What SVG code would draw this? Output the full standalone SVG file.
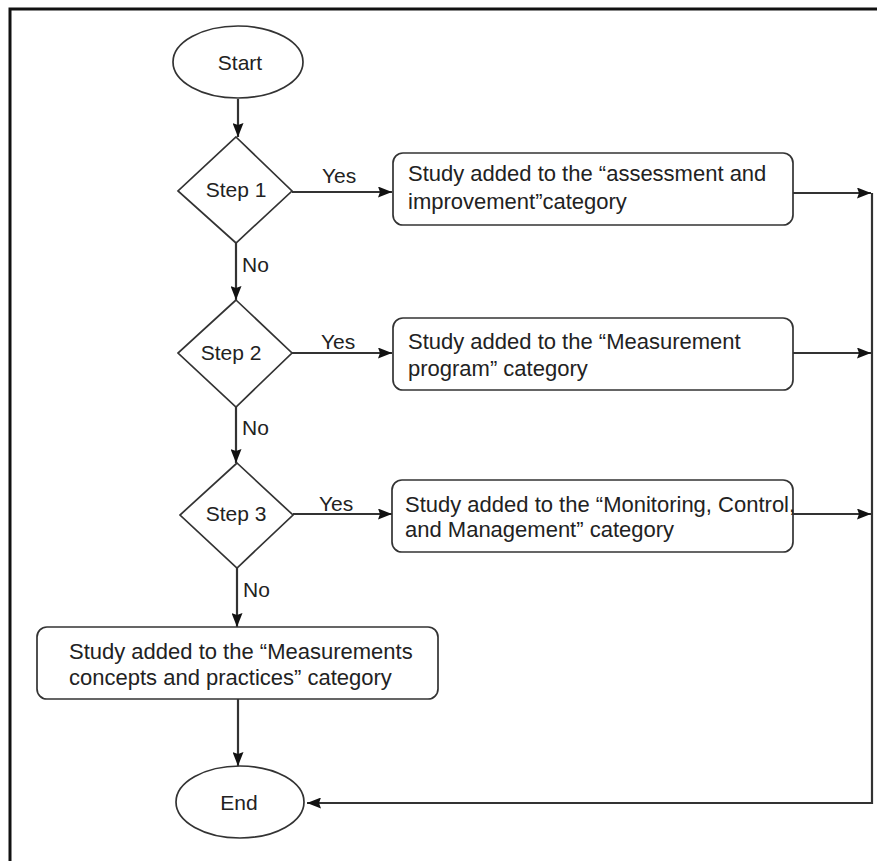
<svg xmlns="http://www.w3.org/2000/svg" width="877" height="861" viewBox="0 0 877 861">
  <defs>
    <marker id="arrow" viewBox="0 0 14 11" refX="14" refY="5.5" markerWidth="14" markerHeight="11" markerUnits="userSpaceOnUse" orient="auto">
      <path d="M0,0 L14,5.5 L0,11 L2,5.5 Z" fill="#111"/>
    </marker>
    <style>
      .frame { fill: none; stroke: #111; stroke-width: 3; }
      .shape { fill: #fff; stroke: #333; stroke-width: 1.7; }
      .link { fill: none; stroke: #333; stroke-width: 2.2; }
      .arr { marker-end: url(#arrow); }
      .lbl { font-family: "Liberation Sans", Arial, sans-serif; font-size: 21px; fill: #222; }
      .mid { text-anchor: middle; dominant-baseline: central; }
      .box { font-family: "Liberation Sans", Arial, sans-serif; font-size: 22px; fill: #222; }
    </style>
  </defs>

  <rect width="877" height="861" fill="#fff"/>
  <!-- page frame: only the top and left edges fall inside the canvas -->
  <path class="frame" d="M10,861 L10,9 L877,9"/>

  <!-- connectors -->
  <g id="connectors">
    <line class="link arr" x1="238" y1="99" x2="238" y2="137"/>
    <line class="link arr" x1="236" y1="243" x2="236" y2="300"/>
    <line class="link arr" x1="236" y1="407" x2="236" y2="463"/>
    <line class="link arr" x1="237" y1="568" x2="237" y2="627"/>
    <line class="link arr" x1="238" y1="699" x2="238" y2="766"/>

    <line class="link arr" x1="292" y1="192" x2="392" y2="192"/>
    <line class="link arr" x1="292" y1="353" x2="392" y2="353"/>
    <line class="link arr" x1="293" y1="514" x2="392" y2="514"/>

    <line class="link arr" x1="793" y1="193" x2="871" y2="193"/>
    <line class="link arr" x1="793" y1="353" x2="871" y2="353"/>
    <line class="link arr" x1="793" y1="514" x2="871" y2="514"/>

    <path class="link arr" d="M872,193 L872,803 L307,803"/>

    <text class="lbl" x="322" y="183">Yes</text>
    <text class="lbl" x="321" y="349">Yes</text>
    <text class="lbl" x="319" y="511">Yes</text>
    <text class="lbl" x="242" y="272">No</text>
    <text class="lbl" x="242" y="435">No</text>
    <text class="lbl" x="243" y="597">No</text>
  </g>

  <g id="start">
    <ellipse class="shape" cx="238" cy="62" rx="65" ry="36"/>
    <text class="lbl mid" x="240" y="62">Start</text>
  </g>

  <g id="step1">
    <polygon class="shape" points="236,137 292,191 236,243 178,191"/>
    <text class="lbl mid" x="236" y="189">Step 1</text>
  </g>

  <g id="step2">
    <polygon class="shape" points="236,300 292,353 236,407 178,353"/>
    <text class="lbl mid" x="231" y="352">Step 2</text>
  </g>

  <g id="step3">
    <polygon class="shape" points="237,463 293,515 237,568 180,515"/>
    <text class="lbl mid" x="236" y="513">Step 3</text>
  </g>

  <g id="assessment">
    <rect class="shape" x="393" y="153" width="400" height="72" rx="10"/>
    <text class="box" x="408" y="181">Study added to the “assessment and</text>
    <text class="box" x="408" y="209">improvement”category</text>
  </g>

  <g id="program">
    <rect class="shape" x="393" y="318" width="400" height="72" rx="10"/>
    <text class="box" x="408" y="349">Study added to the “Measurement</text>
    <text class="box" x="408" y="376">program” category</text>
  </g>

  <g id="monitoring">
    <rect class="shape" x="392" y="480" width="401" height="72" rx="10"/>
    <text class="box" x="405" y="512">Study added to the “Monitoring, Control,</text>
    <text class="box" x="405" y="537">and Management” category</text>
  </g>

  <g id="concepts">
    <rect class="shape" x="37" y="627" width="401" height="72" rx="10"/>
    <text class="box" x="69" y="659">Study added to the “Measurements</text>
    <text class="box" x="69" y="685">concepts and practices” category</text>
  </g>

  <g id="end">
    <ellipse class="shape" cx="240" cy="802" rx="64" ry="36"/>
    <text class="lbl mid" x="239" y="802">End</text>
  </g>
</svg>
